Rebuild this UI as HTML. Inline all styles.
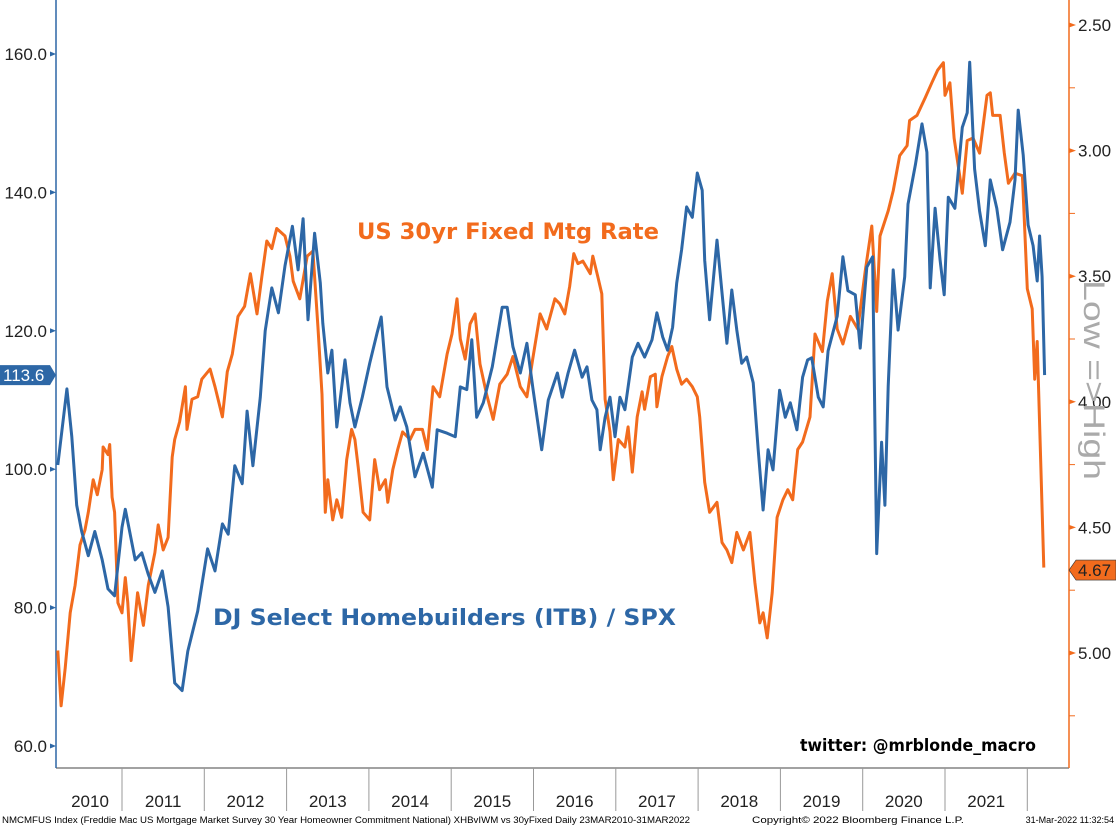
<!DOCTYPE html>
<html><head><meta charset="utf-8"><style>
html,body{margin:0;padding:0;background:#fff;}
svg{display:block;font-family:"Liberation Sans",sans-serif;}
</style></head><body>
<svg id="chart" width="1116" height="827" viewBox="0 0 1116 827" xmlns="http://www.w3.org/2000/svg">
<rect x="0" y="0" width="1116" height="827" fill="#fff"/>
<g id="axes"></g>
<g id="series"></g>
<text x="357" y="239" fill="#f26b1d" font-weight="bold" font-size="22" font-family="DejaVu Sans, sans-serif" textLength="302" lengthAdjust="spacingAndGlyphs">US 30yr Fixed Mtg Rate</text>
<text x="213" y="625" fill="#2d67a6" font-weight="bold" font-size="22" font-family="DejaVu Sans, sans-serif" textLength="463" lengthAdjust="spacingAndGlyphs">DJ Select Homebuilders (ITB) / SPX</text>
<text x="800" y="751" fill="#000" font-weight="bold" font-size="17" font-family="DejaVu Sans, sans-serif" textLength="236" lengthAdjust="spacingAndGlyphs">twitter: @mrblonde_macro</text>
<text transform="translate(1084,380) rotate(90)" text-anchor="middle" fill="#aaaaaa" font-size="30" textLength="200" lengthAdjust="spacingAndGlyphs">Low =&gt;High</text>
<text x="2" y="823" font-size="9" fill="#000" textLength="688" lengthAdjust="spacingAndGlyphs">NMCMFUS Index (Freddie Mac US Mortgage Market Survey 30 Year Homeowner Commitment National) XHBvIWM vs 30yFixed  Daily 23MAR2010-31MAR2022</text>
<text x="752" y="823" font-size="9" fill="#000" textLength="212" lengthAdjust="spacingAndGlyphs">Copyright© 2022 Bloomberg Finance L.P.</text>
<text x="1114" y="823" font-size="9" fill="#000" text-anchor="end">31-Mar-2022 11:32:54</text>
</svg>
<script>
const years = [2010,2011,2012,2013,2014,2015,2016,2017,2018,2019,2020,2021];
const leftTicks = [60,80,100,120,140,160];
const rightTicks = [2.5,3.0,3.5,4.0,4.5,5.0];
const itbDates = [2010.22,2010.33,2010.39,2010.45,2010.51,2010.59,2010.67,2010.76,2010.83,2010.91,2011.00,2011.04,2011.16,2011.24,2011.32,2011.40,2011.49,2011.56,2011.64,2011.73,2011.80,2011.92,2012.04,2012.13,2012.22,2012.29,2012.37,2012.46,2012.52,2012.59,2012.68,2012.74,2012.82,2012.90,2012.98,2013.07,2013.14,2013.20,2013.26,2013.34,2013.41,2013.44,2013.50,2013.55,2013.61,2013.71,2013.77,2013.83,2013.92,2014.01,2014.10,2014.15,2014.22,2014.32,2014.38,2014.46,2014.56,2014.66,2014.77,2014.83,2014.95,2015.05,2015.11,2015.19,2015.25,2015.31,2015.39,2015.50,2015.62,2015.68,2015.75,2015.84,2015.92,2015.99,2016.10,2016.18,2016.29,2016.35,2016.42,2016.50,2016.59,2016.65,2016.71,2016.77,2016.81,2016.87,2016.93,2016.99,2017.05,2017.11,2017.20,2017.27,2017.35,2017.44,2017.50,2017.57,2017.63,2017.69,2017.74,2017.80,2017.86,2017.93,2017.99,2018.05,2018.08,2018.14,2018.23,2018.29,2018.35,2018.41,2018.47,2018.53,2018.59,2018.67,2018.73,2018.79,2018.85,2018.91,2018.99,2019.06,2019.12,2019.20,2019.27,2019.33,2019.38,2019.46,2019.52,2019.58,2019.69,2019.76,2019.82,2019.91,2019.97,2020.05,2020.12,2020.17,2020.23,2020.27,2020.31,2020.37,2020.43,2020.51,2020.55,2020.64,2020.72,2020.78,2020.82,2020.88,2020.94,2020.99,2021.04,2021.12,2021.21,2021.27,2021.30,2021.36,2021.42,2021.49,2021.55,2021.63,2021.70,2021.79,2021.85,2021.89,2021.95,2022.01,2022.07,2022.12,2022.15,2022.18,2022.21];
const itbValues = [100.6,111.6,104.7,94.8,91,87.5,91,86.9,82.7,81.7,91.6,94.2,86.9,87.9,84.8,82.2,85.3,80.1,69.1,68,73.7,79.5,88.5,85.3,92.1,90.6,100.5,97.9,108.4,100.5,110.4,120,126.2,122.6,129.4,135.1,128.8,136.2,121.6,134.1,126.9,121.1,113.9,117.2,106.1,115.8,109.6,106.1,110.4,115.3,119.7,122,111.9,107.1,109,106.1,98.9,102.3,97.4,105.7,105.2,104.7,111.9,111.5,118.7,107.5,109.6,114.8,123.4,123.4,117.7,113.9,118.2,111.9,102.8,110,113.9,110.4,113.9,117.2,113.3,114.8,110,108.6,102.8,107.5,110.4,104.7,110.4,108.6,116.2,118.2,116.2,118.7,122.6,119.1,117.2,120.5,126.9,131.7,137.9,136.4,142.8,140.3,130.2,121.6,133.1,125.5,118.2,125.9,120.1,115.3,116.2,112.5,102.8,94.1,102.8,99.9,111.4,107.5,109.6,105.7,113.3,115.8,116.1,110.4,109,117.1,122.1,130.7,125.8,125.2,117.5,129.2,130.7,87.8,103.9,94.8,112,128.8,120.1,127.8,138.3,144,149.9,145.8,126.2,137.7,130.2,125.2,139.3,137.7,149.4,151.5,158.8,143.4,137.3,132.3,141.8,137.7,131.7,135.7,141.8,151.9,145.4,135.3,132.3,127.2,133.7,127.8,113.6];
const rateDates = [2010.22,2010.26,2010.31,2010.37,2010.43,2010.49,2010.55,2010.59,2010.65,2010.70,2010.76,2010.77,2010.83,2010.85,2010.88,2010.91,2010.95,2011.00,2011.04,2011.07,2011.11,2011.16,2011.19,2011.26,2011.32,2011.40,2011.44,2011.50,2011.56,2011.61,2011.64,2011.70,2011.77,2011.79,2011.85,2011.92,2011.97,2012.07,2012.13,2012.22,2012.28,2012.34,2012.41,2012.49,2012.56,2012.64,2012.70,2012.76,2012.82,2012.88,2012.98,2013.04,2013.08,2013.16,2013.25,2013.32,2013.38,2013.43,2013.47,2013.50,2013.56,2013.61,2013.67,2013.73,2013.79,2013.83,2013.87,2013.93,2014.01,2014.07,2014.13,2014.20,2014.23,2014.29,2014.35,2014.41,2014.50,2014.56,2014.65,2014.71,2014.78,2014.86,2014.95,2015.01,2015.07,2015.11,2015.17,2015.23,2015.29,2015.35,2015.43,2015.51,2015.59,2015.68,2015.75,2015.84,2015.92,2015.99,2016.08,2016.16,2016.26,2016.32,2016.38,2016.44,2016.49,2016.54,2016.60,2016.69,2016.72,2016.78,2016.83,2016.87,2016.93,2016.97,2017.03,2017.11,2017.15,2017.20,2017.26,2017.32,2017.35,2017.42,2017.48,2017.50,2017.56,2017.63,2017.68,2017.74,2017.80,2017.86,2017.93,2017.99,2018.02,2018.08,2018.14,2018.23,2018.29,2018.35,2018.41,2018.47,2018.55,2018.63,2018.69,2018.75,2018.79,2018.84,2018.90,2018.96,2019.03,2019.09,2019.15,2019.21,2019.27,2019.36,2019.42,2019.51,2019.57,2019.63,2019.69,2019.76,2019.85,2019.94,2020.03,2020.11,2020.17,2020.21,2020.31,2020.37,2020.45,2020.54,2020.57,2020.66,2020.76,2020.84,2020.91,2020.98,2021.00,2021.06,2021.11,2021.21,2021.27,2021.34,2021.42,2021.51,2021.55,2021.58,2021.67,2021.72,2021.77,2021.85,2021.94,2022.00,2022.06,2022.09,2022.12,2022.20];
const rateValues = [4.99,5.21,5.06,4.84,4.73,4.57,4.51,4.44,4.31,4.37,4.27,4.18,4.21,4.17,4.38,4.44,4.80,4.84,4.70,4.80,5.03,4.86,4.76,4.89,4.73,4.60,4.49,4.59,4.54,4.22,4.15,4.08,3.94,4.11,3.99,3.98,3.91,3.87,3.94,4.06,3.88,3.81,3.66,3.62,3.49,3.65,3.50,3.36,3.39,3.31,3.34,3.42,3.52,3.59,3.42,3.40,3.70,3.97,4.44,4.31,4.47,4.39,4.46,4.23,4.11,4.15,4.26,4.44,4.47,4.23,4.35,4.31,4.40,4.27,4.19,4.12,4.15,4.11,4.11,4.19,3.94,3.98,3.81,3.73,3.59,3.75,3.83,3.69,3.65,3.85,3.97,4.07,3.93,3.89,3.82,3.94,3.98,3.83,3.65,3.71,3.59,3.61,3.65,3.54,3.41,3.45,3.44,3.49,3.42,3.50,3.57,3.99,4.12,4.31,4.15,4.18,4.10,4.28,4.06,3.96,4.03,3.90,3.89,4.02,3.90,3.82,3.78,3.87,3.93,3.91,3.94,3.98,4.06,4.32,4.44,4.40,4.56,4.59,4.64,4.52,4.59,4.52,4.72,4.88,4.84,4.94,4.76,4.46,4.39,4.35,4.39,4.19,4.16,4.06,3.73,3.80,3.60,3.49,3.71,3.77,3.66,3.71,3.48,3.30,3.64,3.34,3.24,3.16,3.02,2.98,2.88,2.86,2.79,2.73,2.68,2.65,2.78,2.73,2.95,3.17,2.96,2.95,3.01,2.78,2.77,2.86,2.86,3.01,3.13,3.09,3.10,3.55,3.63,3.91,3.76,4.66];

const BLUE = "#2d67a6", ORANGE = "#f26b1d";
const xT = t => 122 + (t - 2011) * 82.3;
const yL = v => 746 - (v - 60) * 6.92;
const yR = r => 25 + (r - 2.5) * 251.2;
const NS = "http://www.w3.org/2000/svg";
function mk(tag, parent) { const e = document.createElementNS(NS, tag); parent.appendChild(e); return e; }
const axes = document.getElementById('axes');
const series = document.getElementById('series');

let f = mk('line', axes);


f.setAttribute('x1', 56); f.setAttribute('x2', 1069); f.setAttribute('y1', 768); f.setAttribute('y2', 768);
f.setAttribute('stroke', '#444'); f.setAttribute('stroke-width', 1);

let la = mk('line', axes);


la.setAttribute('x1', 56); la.setAttribute('x2', 56); la.setAttribute('y1', 0); la.setAttribute('y2', 768);
la.setAttribute('stroke', BLUE); la.setAttribute('stroke-width', 1.5);

let ra = mk('line', axes);


ra.setAttribute('x1', 1069); ra.setAttribute('x2', 1069); ra.setAttribute('y1', 0); ra.setAttribute('y2', 768);
ra.setAttribute('stroke', ORANGE); ra.setAttribute('stroke-width', 1.5);

leftTicks.forEach(v => {
  const y = yL(v);
  const p = mk('path', axes);
  
  
  p.setAttribute('d', `M50 ${y-2.5} L56 ${y} L50 ${y+2.5} Z`);
  p.setAttribute('fill', BLUE);
  const t = mk('text', axes);
  
  
  t.setAttribute('x', 47); t.setAttribute('y', y + 6);
  t.setAttribute('text-anchor', 'end'); t.setAttribute('font-size', 17); t.setAttribute('fill', '#222');
  t.textContent = v.toFixed(1);
});
rightTicks.forEach(r => {
  const y = yR(r);
  const p = mk('path', axes);
  
  
  p.setAttribute('d', `M1069 ${y-2.5} L1076 ${y} L1069 ${y+2.5} Z`);
  p.setAttribute('fill', ORANGE);
  const m = mk('line', axes);
  
  
  const ym = yR(r + 0.25);
  m.setAttribute('x1', 1069); m.setAttribute('x2', 1075); m.setAttribute('y1', ym); m.setAttribute('y2', ym);
  m.setAttribute('stroke', ORANGE); m.setAttribute('stroke-width', 1);
  const t = mk('text', axes);
  
  
  t.setAttribute('x', 1078); t.setAttribute('y', y + 6);
  t.setAttribute('font-size', 17); t.setAttribute('fill', '#222');
  t.textContent = r.toFixed(2);
});
years.forEach(yr => {
  const xd = xT(yr + 1);
  const l = mk('line', axes);
  
  
  l.setAttribute('x1', xd); l.setAttribute('x2', xd); l.setAttribute('y1', 768); l.setAttribute('y2', 811);
  l.setAttribute('stroke', '#999'); l.setAttribute('stroke-width', 1);
  const cx = yr === 2010 ? 90 : (xT(yr) + xT(yr + 1)) / 2;
  const t = mk('text', axes);
  
  
  t.setAttribute('x', cx); t.setAttribute('y', 807);
  t.setAttribute('text-anchor', 'middle'); t.setAttribute('font-size', 17); t.setAttribute('fill', '#222');
  t.textContent = String(yr);
});

function line(dates, vals, yf, color, name) {
  const pl = mk('polyline', series);
  
  
  pl.setAttribute('points', dates.map((d, i) => xT(d).toFixed(1) + ',' + yf(vals[i]).toFixed(1)).join(' '));
  pl.setAttribute('fill', 'none'); pl.setAttribute('stroke', color);
  pl.setAttribute('stroke-width', 3); pl.setAttribute('stroke-linejoin', 'round');
}
line(rateDates, rateValues, yR, ORANGE, 'mortgage-rate-line');
line(itbDates, itbValues, yL, BLUE, 'itb-spx-line');

const lastItb = itbValues[itbValues.length - 1];
const yb = yL(lastItb);
const tagB = mk('path', axes);


tagB.setAttribute('d', `M0 ${yb-10} L50 ${yb-10} L56 ${yb} L50 ${yb+10} L0 ${yb+10} Z`);
tagB.setAttribute('fill', BLUE);
const tb = mk('text', axes);


tb.setAttribute('x', 3); tb.setAttribute('y', yb + 6); tb.setAttribute('font-size', 17); tb.setAttribute('fill', '#fff');
tb.textContent = lastItb.toFixed(1);

const lastRate = rateValues[rateValues.length - 1] + 0.01;
const yo = yR(lastRate);
const tagO = mk('path', axes);


tagO.setAttribute('d', `M1069 ${yo} L1076 ${yo-10} L1116 ${yo-10} L1116 ${yo+10} L1076 ${yo+10} Z`);
tagO.setAttribute('fill', ORANGE); tagO.setAttribute('stroke', '#333'); tagO.setAttribute('stroke-width', 0.6);
const to = mk('text', axes);


to.setAttribute('x', 1078); to.setAttribute('y', yo + 6); to.setAttribute('font-size', 17); to.setAttribute('fill', '#222');
to.textContent = lastRate.toFixed(2);
</script>
</body></html>
